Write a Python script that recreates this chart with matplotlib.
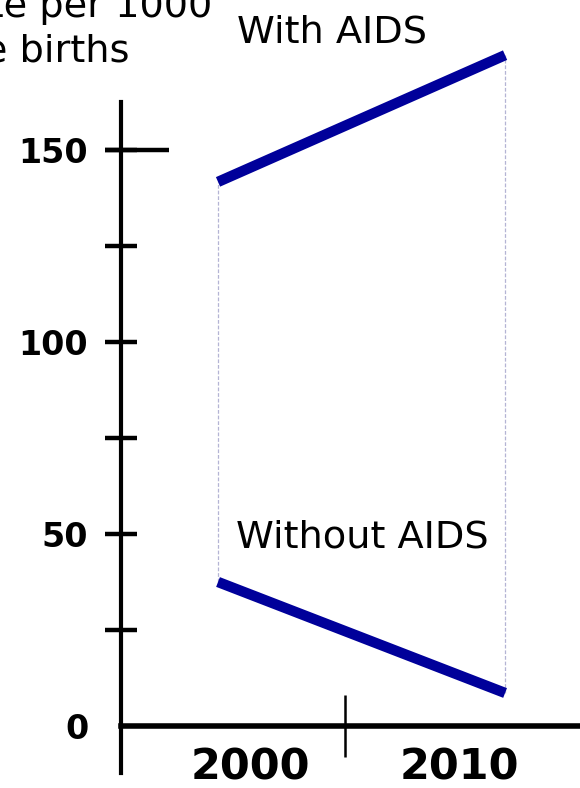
import matplotlib
matplotlib.use('Agg')
import matplotlib.pyplot as plt
import numpy as np

years = [2000, 2010]
with_aids = [141.7, 174.7]
without_aids = [37.5, 8.6]
series_labels = ['With AIDS', 'Without AIDS']
ytick_values = [0, 50, 100, 150]
yminor_values = [25, 75, 125]
xtick_labels = ['2000', '2010']
title_lines = ['Mortality rate per 1000', 'live births']

blue = '#00009a'
conn = '#b4b4d4'

fig = plt.figure(figsize=(5.8, 7.88), dpi=100)
ax = fig.add_axes([121/580, 15/788, 459/580, 671/788])
ax.set_xlim(1996.62, 2012.61)
ax.set_ylim(-12.24, 162.5)

# thin connectors between the two scenarios
ax.vlines(years, without_aids, with_aids, color=conn, lw=0.9, linestyles=(0, (3, 1.5)),
          zorder=1, clip_on=False)
ax.plot(years, with_aids, color=blue, lw=7.5, solid_capstyle='butt', zorder=3, clip_on=False)
ax.plot(years, without_aids, color=blue, lw=7.5, solid_capstyle='butt', zorder=3, clip_on=False)

ax.text(2000.66, 177.9, series_labels[0], fontsize=27.5, va='baseline', clip_on=False)
ax.text(2000.62, 46.5, series_labels[1], fontsize=27.5, va='baseline')

for s in ['top', 'right']:
    ax.spines[s].set_visible(False)
ax.spines['left'].set_linewidth(3)
ax.spines['bottom'].set_position(('data', 0))
ax.spines['bottom'].set_linewidth(4)

# y ticks
ax.set_yticks(ytick_values)
ax.set_yticks(yminor_values, minor=True)
ax.set_yticklabels([str(v) for v in ytick_values], fontsize=24, fontweight='bold')
ax.tick_params(axis='y', which='both', direction='inout', length=23, width=3.2, pad=12)
ax.yaxis.get_major_ticks()[0].tick1line.set_visible(False)
# the 150 tick runs further into the plot
ax.plot([-0.035, 0.105], [150, 150], color='black', lw=3.2,
        transform=ax.get_yaxis_transform(), clip_on=False, solid_capstyle='butt')

# x ticks: one divider, labels centred in each decade
ax.set_xticks([2004.43])
ax.set_xticklabels([''])
ax.tick_params(axis='x', which='major', direction='inout', length=45, width=1.8)
ax.set_xticks([2001.13, 2008.4], minor=True)
ax.set_xticklabels(xtick_labels, minor=True, fontsize=31, fontweight='bold')
ax.tick_params(axis='x', which='minor', length=0, pad=15)

fig.text(212/580, 1 - 17/788, title_lines[0], fontsize=27.5, ha='right', va='baseline')
fig.text(130/580, 1 - 62/788, title_lines[1], fontsize=27.5, ha='right', va='baseline')

fig.savefig('out.png', dpi=100)
